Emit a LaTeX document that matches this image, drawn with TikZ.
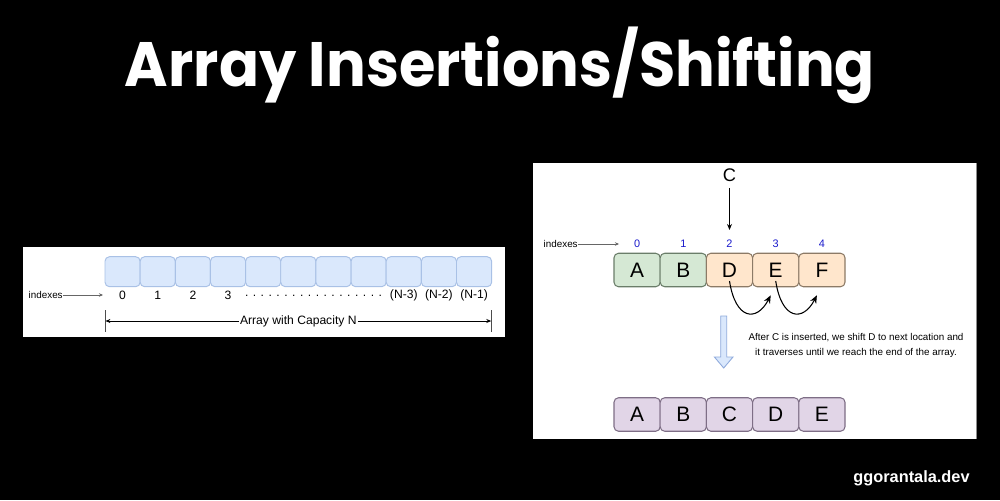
\documentclass[tikz,border=0pt]{standalone}
\usepackage{fontspec}
\usepackage{graphicx}
\setmainfont{Liberation Sans}
\newfontfamily\titlefont{Poppins}
\usetikzlibrary{arrows.meta,calc}
\newlength\pxu \setlength\pxu{0.02cm}
\definecolor{lbfill}{HTML}{DAE8FC}
\definecolor{lbdraw}{HTML}{A9C1E6}
\definecolor{gfill}{HTML}{D5E8D4}
\definecolor{gdraw}{HTML}{6A7D69}
\definecolor{ofill}{HTML}{FFE6CC}
\definecolor{odraw}{HTML}{8C7A66}
\definecolor{pfill}{HTML}{E1D5E7}
\definecolor{pdraw}{HTML}{7E6E86}
\definecolor{idxblue}{HTML}{1A1ACC}
\definecolor{arrdraw}{HTML}{8FAADC}
\begin{document}
\begin{tikzpicture}[x=0.02cm,y=-0.02cm,
  lcell/.style={draw=lbdraw,fill=lbfill,line width=0.55pt,rounded corners=2.55pt,
    minimum width=35.15\pxu,minimum height=30\pxu,inner sep=0pt},
  rcell/.style={line width=0.6pt,rounded corners=2.55pt,
    minimum width=46.2\pxu,minimum height=33.5\pxu,inner sep=0pt,
    font=\fontsize{11.9pt}{13pt}\selectfont},
  gcell/.style={rcell,draw=gdraw,fill=gfill},
  ocell/.style={rcell,draw=odraw,fill=ofill},
  pcell/.style={rcell,draw=pdraw,fill=pfill},
  lidx/.style={font=\fontsize{6.9pt}{8pt}\selectfont,inner sep=0pt},
  ridx/.style={font=\fontsize{6.2pt}{7pt}\selectfont,text=idxblue,inner sep=0pt},
  small/.style={font=\fontsize{5.6pt}{7pt}\selectfont,inner sep=0pt},
  thinarrow/.style={draw=black!60,line width=0.35pt,-{Stealth[length=2.3pt,width=2pt]}},
  dimarrow/.style={draw=black,line width=0.4pt,-{Stealth[length=2.8pt,width=2.3pt]}},
  curvarrow/.style={draw=black,line width=0.6pt,-{Stealth[length=4.6pt,width=3.8pt]}}
]
\fill[black] (0,0) rectangle (1000,500);
\useasboundingbox (0,0) rectangle (1000,500);

% title
\node[anchor=base,text=white,inner sep=0pt,
  font=\titlefont\bfseries\fontsize{35.7pt}{40pt}\selectfont] (title) at (500,87)
  {\resizebox{750\pxu}{\height}{Array Insertions/Shifting}};

% ---------- left panel ----------
\fill[white] (23,247) rectangle (505,337);
\foreach \i in {0,...,10}
  \node[lcell] (L\i) at ({122.575+35.15*\i},271.7) {};
\foreach \i/\t in {0/0,1/1,2/2,3/3,8/{(N-3)},9/{(N-2)},10/{(N-1)}}
  \node[lidx] (LI\i) at ({122.575+35.15*\i},295.5) {\t};
\node[lidx] (dots) at (313.5,295.5) {. . . . . . . . . . . . . . . . . .};
\node[small,anchor=east] (lindex) at (63,295) {indexes};
\coordinate (lindexend) at (103,295);
\draw[thinarrow] (lindex.east) -- (lindexend);

% dimension line
\coordinate (ltt) at (105,310);
\coordinate (ltb) at (105,332);
\coordinate (rtt) at (491.7,310);
\coordinate (rtb) at (491.7,332);
\draw[black!70,line width=0.55pt] (ltt) -- (ltb);
\draw[black!70,line width=0.55pt] (rtt) -- (rtb);
\node[lidx,fill=white,inner xsep=0.5pt] (cap) at (298.3,321) {Array with Capacity N};
\coordinate (lmid) at (105.5,321);
\coordinate (rmid) at (491.2,321);
\draw[dimarrow] (cap.west) -- (lmid);
\draw[dimarrow] (cap.east) -- (rmid);

% ---------- right panel ----------
\fill[white] (533,163) rectangle (976,439);
\draw[black!45,line width=0.4pt] (976,163) -- (976,439);

\node[gcell] (A) at (637.1,270) {A};
\node[gcell] (B) at (683.3,270) {B};
\node[ocell] (D) at (729.5,270) {D};
\node[ocell] (E) at (775.7,270) {E};
\node[ocell] (F) at (821.9,270) {F};

\foreach \n/\t in {A/0,B/1,D/2,E/3,F/4}
  \node[ridx] (i\n) at ($(\n.center)+(0,-26)$) {\t};

\node[small,anchor=east] (rindex) at (578,244) {indexes};
\coordinate (rindexend) at (619,244);
\draw[thinarrow] (rindex.east) -- (rindexend);

\node[font=\fontsize{10.4pt}{12pt}\selectfont,inner sep=0pt] (C) at (729.5,175) {C};
\coordinate (Cend) at (729.5,230);
\draw[line width=0.55pt,-{Stealth[length=3.4pt,width=2.8pt]}] ($(C.south)+(0,6)$) -- (Cend);

\coordinate (Dstart) at ($(D.center)+(0,11)$);
\coordinate (Eend) at ($(E.south)+(-5,8)$);
\coordinate (Estart) at ($(E.center)+(0,11)$);
\coordinate (Fend) at ($(F.south)+(-5,8)$);
\draw[curvarrow] (Dstart) .. controls +(6,39) and +(-14,27) .. (Eend);
\draw[curvarrow] (Estart) .. controls +(6,39) and +(-14,27) .. (Fend);

% block arrow
\draw[draw=arrdraw,fill=lbfill,line width=0.5pt,line join=miter]
  (720.7,316) -- (726.7,316) -- (726.7,357) -- (733,357) -- (723.7,368)
  -- (714.4,357) -- (720.7,357) -- cycle;

\node[small,align=center,font=\fontsize{5.6pt}{8.5pt}\selectfont] (note) at (856,345.5)
  {After C is inserted, we shift D to next location and\\it traverses until we reach the end of the array.};

\node[pcell] (A2) at (637.1,414.5) {A};
\node[pcell] (B2) at (683.3,414.5) {B};
\node[pcell] (C2) at (729.5,414.5) {C};
\node[pcell] (D2) at (775.7,414.5) {D};
\node[pcell] (E2) at (821.9,414.5) {E};

% watermark
\node[text=white,inner sep=0pt,font=\bfseries\fontsize{9.3pt}{11pt}\selectfont] (mark) at (911.5,478) {ggorantala.dev};
\end{tikzpicture}
\end{document}
